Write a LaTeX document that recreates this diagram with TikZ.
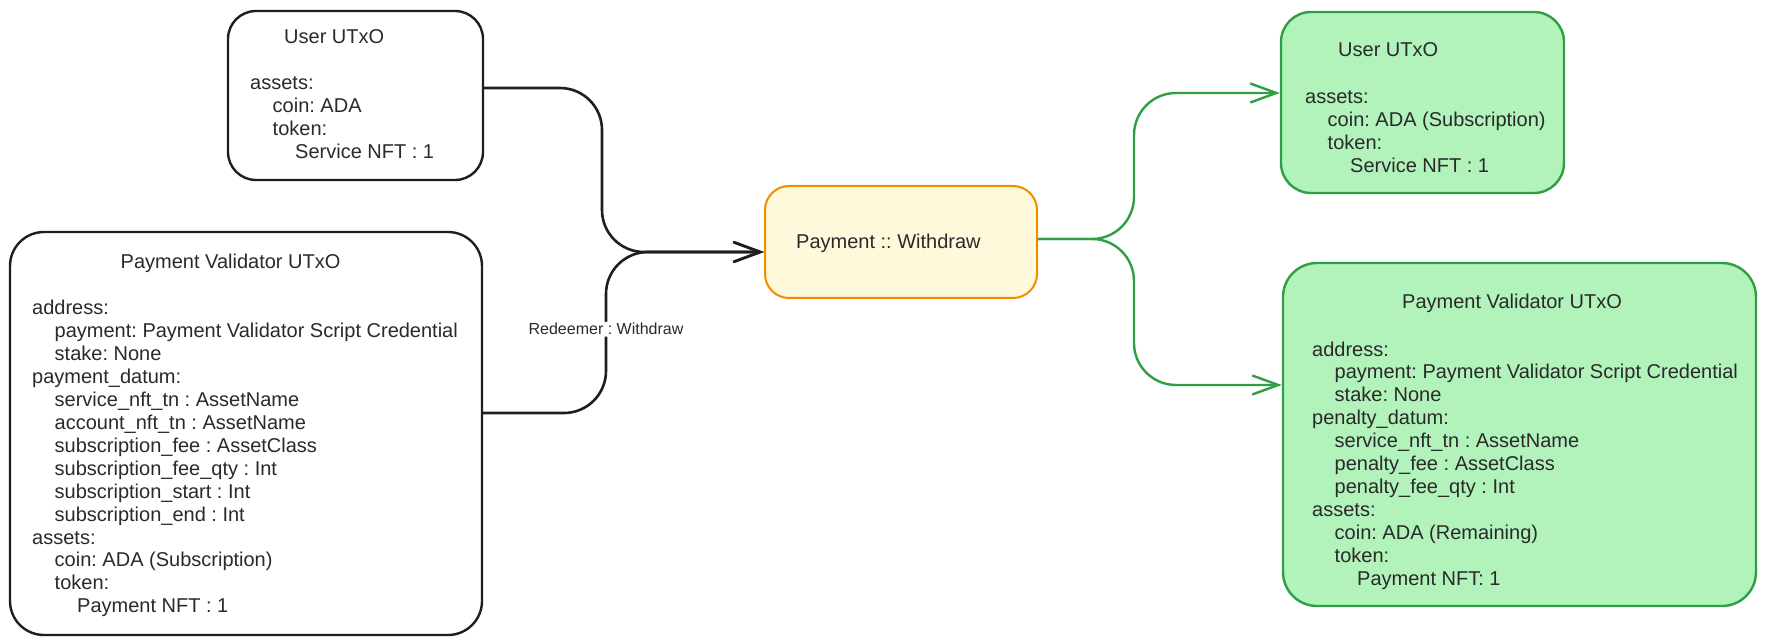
\documentclass[tikz,border=0pt]{standalone}
\usepackage{fontspec}
\setmainfont{Liberation Sans}
\usetikzlibrary{arrows.meta}
\definecolor{ink}{HTML}{1E1E1E}
\definecolor{txt}{HTML}{2A2A2A}
\definecolor{gstroke}{HTML}{2F9E44}
\definecolor{gfill}{HTML}{B2F2BB}
\definecolor{ostroke}{HTML}{F08C00}
\definecolor{ofill}{HTML}{FFF9DB}
\tikzset{
  bbox/.style={draw=ink, line width=2.4pt, fill=white, inner sep=0pt, rectangle},
  gbox/.style={draw=gstroke, line width=2.4pt, fill=gfill, inner sep=0pt, rectangle},
  obox/.style={draw=ostroke, line width=2pt, fill=ofill, inner sep=0pt, rectangle},
  lbl/.style={inner sep=0pt, anchor=base west, text=txt, font=\fontsize{20}{23}\selectfont},
  rlab/.style={fill=white, inner sep=1.5pt, text=txt, font=\fontsize{16}{19}\selectfont},
  bconn/.style={draw=ink, line width=2.6pt, rounded corners=42pt},
  gconn/.style={draw=gstroke, line width=2.4pt, rounded corners=42pt},
  btip/.style={-{Straight Barb[length=27pt,width=20pt,line width=2.6pt]}},
  gtip/.style={-{Straight Barb[length=26pt,width=19pt,line width=2.4pt]}},
}
\newcommand\utxolines[4]{%
  \foreach \lv/\tx [count=\i from 0] in {#4}{%
    \node[lbl] (#1\i) at ({#2+22.5*\lv},{#3+22.9*\i}) {\tx};
  }%
}
\frenchspacing
\begin{document}
\begin{tikzpicture}[x=1pt,y=-1pt]
\useasboundingbox (0,0) rectangle (1765,644);
% boxes
\node[bbox, rounded corners=28pt, minimum width=255pt, minimum height=169pt] (ul) at (355.5,95.5) {};
\node[bbox, rounded corners=34pt, minimum width=472pt, minimum height=403pt] (pl) at (246,433.5) {};
\node[obox, rounded corners=24pt, minimum width=272pt, minimum height=112pt] (pay) at (901,242) {};
\node[gbox, rounded corners=30pt, minimum width=283pt, minimum height=181pt] (ur) at (1422.5,102.5) {};
\node[gbox, rounded corners=34pt, minimum width=473pt, minimum height=343pt] (pr) at (1519.5,434.5) {};
% titles
\node[lbl] (ult) at (284,44) {User UTxO};
\node[lbl] (plt) at (120.5,269) {Payment Validator UTxO};
\node[lbl] (payt) at (796,249) {Payment :: Withdraw};
\node[lbl] (urt) at (1338,57) {User UTxO};
\node[lbl] (prt) at (1402,309) {Payment Validator UTxO};
% contents
\utxolines{ull}{250}{90}{0/assets:, 1/coin: ADA, 1/token:, 2/Service NFT : 1}
\utxolines{pll}{32}{315}{0/address:, 1/payment: Payment Validator Script Credential, 1/stake: None, 0/payment\_datum:, 1/service\_nft\_tn : AssetName, 1/account\_nft\_tn : AssetName, 1/subscription\_fee : AssetClass, 1/subscription\_fee\_qty : Int, 1/subscription\_start : Int, 1/subscription\_end : Int, 0/assets:, 1/coin: ADA (Subscription), 1/token:, 2/Payment NFT : 1}
\utxolines{url}{1305}{104}{0/assets:, 1/coin: ADA (Subscription), 1/token:, 2/Service NFT : 1}
\utxolines{prl}{1312}{356}{0/address:, 1/payment: Payment Validator Script Credential, 1/stake: None, 0/penalty\_datum:, 1/service\_nft\_tn : AssetName, 1/penalty\_fee : AssetClass, 1/penalty\_fee\_qty : Int, 0/assets:, 1/coin: ADA (Remaining), 1/token:, 2/Payment NFT: 1}
% connectors
\coordinate (pin) at ([yshift=-10pt]pay.west);
\coordinate (pout) at ([yshift=3pt]pay.east);
\draw[bconn, btip] ([yshift=7.5pt]ul.east) -- (602,88) -- (602,252) -- (pin);
\draw[bconn, btip] ([yshift=20.5pt]pl.east) -- (606,413) -- node[rlab, pos=0.52] (rl) {Redeemer : Withdraw} (606,252) -- (pin);
\draw[gconn, gtip] (pout) -- (1134,239) -- (1134,93) -- ([yshift=9.5pt]ur.west);
\draw[gconn, gtip] (pout) -- (1134,239) -- (1134,385) -- ([yshift=49.5pt]pr.west);
\end{tikzpicture}
\end{document}
